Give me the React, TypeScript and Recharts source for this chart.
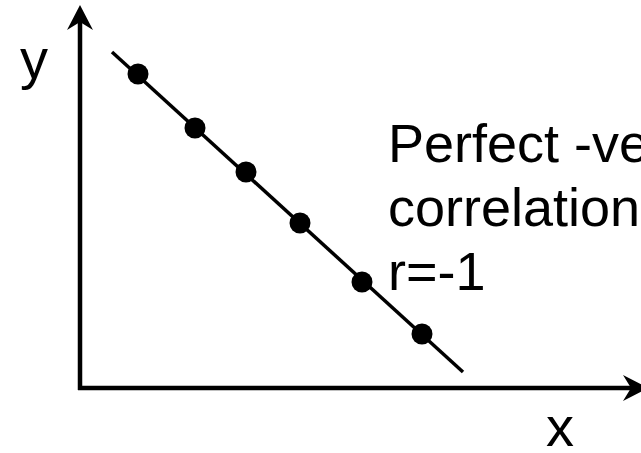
import { ReferenceLine, Scatter, ScatterChart, XAxis, YAxis } from "recharts";

// sample points, all on one straight line with negative slope
const xValues = [2.9, 5.75, 8.3, 11, 14.1, 17.1];
const yValues = [15.7, 13, 10.8, 8.25, 5.3, 2.7];

// ends of the drawn line through the points
const lineX = [1.6, 19.15];
const lineY = [16.8, 0.8];

const xMax = 28.05;
const yMax = 19.15;
const caption = ["Perfect -ve", "correlation", "r=-1"];

const points = xValues.map((x, i) => ({ x, y: yValues[i] }));
const fitLine = lineX.map((x, i) => ({ x, y: lineY[i] }));

const font = "'Liberation Sans', Arial, sans-serif";

function Dot(props: any) {
  return <circle cx={props.cx} cy={props.cy} r={10.5} fill="#000" />;
}

function ArrowAxis(props: any) {
  const { x1, y1, x2, y2 } = props;
  const dx = x2 - x1;
  const dy = y2 - y1;
  const len = Math.hypot(dx, dy) || 1;
  const ux = dx / len;
  const uy = dy / len;
  const head = 25;
  const half = 13;
  const notch = 17;
  const bx = x2 - ux * head;
  const by = y2 - uy * head;
  const nx = x2 - ux * notch;
  const ny = y2 - uy * notch;
  const pts = [
    [x2, y2],
    [bx - uy * half, by + ux * half],
    [nx, ny],
    [bx + uy * half, by - ux * half],
  ]
    .map((p) => p.join(","))
    .join(" ");
  return (
    <g>
      <line x1={x1 - ux * 2} y1={y1 - uy * 2} x2={nx} y2={ny} stroke="#000" strokeWidth={4.5} />
      <polygon points={pts} fill="#000" />
    </g>
  );
}

export default function App() {
  return (
    <div style={{ position: "absolute", left: 0, top: 0, width: 641, height: 453, background: "#fff" }}>
      <ScatterChart width={641} height={453} margin={{ top: 5, right: 0, bottom: 65, left: 80 }}>
        <XAxis type="number" dataKey="x" domain={[0, xMax]} scale="linear" hide />
        <YAxis type="number" dataKey="y" domain={[0, yMax]} scale="linear" hide />
        <ReferenceLine segment={[{ x: 0, y: 0 }, { x: 0, y: yMax }]} ifOverflow="visible" shape={ArrowAxis} />
        <ReferenceLine segment={[{ x: 0, y: 0 }, { x: 28.4, y: 0 }]} ifOverflow="visible" shape={ArrowAxis} />
        <Scatter data={fitLine} line={{ stroke: "#000", strokeWidth: 3.5 }} shape={() => null} isAnimationActive={false} />
        <Scatter data={points} shape={Dot} isAnimationActive={false} />
      </ScatterChart>
      <svg width={641} height={453} style={{ position: "absolute", left: 0, top: 0, pointerEvents: "none" }}>
        <g fontFamily={font} fontSize={54} fill="#000">
          {caption.map((t, i) => (
            <text key={t} x={388} y={162 + i * 64}>
              {t}
            </text>
          ))}
          <text x={20} y={78} fontSize={56}>y</text>
          <text x={546} y={446} fontSize={56}>x</text>
        </g>
      </svg>
    </div>
  );
}
